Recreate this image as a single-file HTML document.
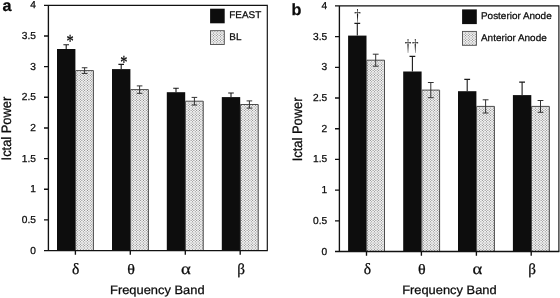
<!DOCTYPE html>
<html lang="en">
<head>
<meta charset="utf-8">
<title>Ictal Power by Frequency Band</title>
<style>
html,body{margin:0;padding:0;background:#fff;}
body{width:560px;height:298px;overflow:hidden;}
svg{display:block;will-change:transform;}
text{text-rendering:geometricPrecision;fill:#0a0a0a;stroke:#0a0a0a;stroke-width:0.25px;paint-order:stroke;}
.t{font-family:"Liberation Sans",sans-serif;font-size:10.1px;}
.k{font-family:"Liberation Sans",sans-serif;font-size:9.7px;}
.l{font-family:"Liberation Sans",sans-serif;font-size:12.1px;}
.p{font-family:"Liberation Sans",sans-serif;font-size:16.2px;font-weight:bold;}
.g{font-family:"Liberation Serif",serif;}
.s{font-family:"Liberation Serif",serif;font-size:18.5px;stroke-width:0.3px;}
.d{font-family:"Liberation Serif",serif;font-size:17.4px;stroke-width:0;fill:#1a1a1a;}
</style>
</head>
<body>
<svg width="560" height="298" viewBox="0 0 560 298">
<defs>
<pattern id="dots" width="14" height="10" patternUnits="userSpaceOnUse">
<rect width="14" height="10" fill="#f3f3f3"/>
<path d="M0.70 0.60h0M2.10 1.85h0M3.50 0.60h0M4.90 1.85h0M6.30 0.60h0M7.70 1.85h0M9.10 0.60h0M10.50 1.85h0M11.90 0.60h0M13.30 1.85h0M0.70 3.10h0M2.10 4.35h0M3.50 3.10h0M4.90 4.35h0M6.30 3.10h0M7.70 4.35h0M9.10 3.10h0M10.50 4.35h0M11.90 3.10h0M13.30 4.35h0M0.70 5.60h0M2.10 6.85h0M3.50 5.60h0M4.90 6.85h0M6.30 5.60h0M7.70 6.85h0M9.10 5.60h0M10.50 6.85h0M11.90 5.60h0M13.30 6.85h0M0.70 8.10h0M2.10 9.35h0M3.50 8.10h0M4.90 9.35h0M6.30 8.10h0M7.70 9.35h0M9.10 8.10h0M10.50 9.35h0M11.90 8.10h0M13.30 9.35h0" fill="none" stroke="#6e6e6e" stroke-width="1.02" stroke-linecap="round"/>
</pattern>
</defs>
<rect width="560" height="298" fill="#fff"/>
<g id="chart-a">
<rect x="57" y="49" width="18.4" height="201.6" fill="#0d0d0d"/>
<rect x="75.4" y="70.6" width="18.4" height="180" fill="url(#dots)"/>
<path d="M75.6 250.6V70.6H93.4V250.6" fill="none" stroke="#4c4c4c" stroke-width="1"/>
<path d="M66.2 49V44.7M63.4 44.7H69" fill="none" stroke="#1a1a1a" stroke-width="1.1"/>
<path d="M84.6 67.75V73.45M81.8 67.75H87.4M81.8 73.45H87.4" fill="none" stroke="#333" stroke-width="1"/>
<rect x="112" y="69.1" width="18.4" height="181.5" fill="#0d0d0d"/>
<rect x="130.4" y="89.6" width="18.4" height="161" fill="url(#dots)"/>
<path d="M130.6 250.6V89.6H148.4V250.6" fill="none" stroke="#4c4c4c" stroke-width="1"/>
<path d="M121.2 69.1V64.4M118.4 64.4H124" fill="none" stroke="#1a1a1a" stroke-width="1.1"/>
<path d="M139.6 85.9V93.3M136.8 85.9H142.4M136.8 93.3H142.4" fill="none" stroke="#333" stroke-width="1"/>
<rect x="166.8" y="92.2" width="18.4" height="158.4" fill="#0d0d0d"/>
<rect x="185.2" y="101.2" width="18.4" height="149.4" fill="url(#dots)"/>
<path d="M185.4 250.6V101.2H203.2V250.6" fill="none" stroke="#4c4c4c" stroke-width="1"/>
<path d="M176 92.2V88.2M173.2 88.2H178.8" fill="none" stroke="#1a1a1a" stroke-width="1.1"/>
<path d="M194.4 97.4V105M191.6 97.4H197.2M191.6 105H197.2" fill="none" stroke="#333" stroke-width="1"/>
<rect x="221.8" y="97.1" width="18.4" height="153.5" fill="#0d0d0d"/>
<rect x="240.2" y="104.5" width="18.4" height="146.1" fill="url(#dots)"/>
<path d="M240.4 250.6V104.5H258.2V250.6" fill="none" stroke="#4c4c4c" stroke-width="1"/>
<path d="M231 97.1V93M228.2 93H233.8" fill="none" stroke="#1a1a1a" stroke-width="1.1"/>
<path d="M249.4 100.9V108.1M246.6 100.9H252.2M246.6 108.1H252.2" fill="none" stroke="#333" stroke-width="1"/>
<path d="M44 5.3H267.3V250.6" fill="none" stroke="#111" stroke-width="1.15"/>
<path d="M267.8 250.6H44M48.4 5.3V250.6" fill="none" stroke="#111" stroke-width="1.35"/>
<path d="M44 219.94H48.4M44 189.28H48.4M44 158.61H48.4M44 127.95H48.4M44 97.29H48.4M44 66.62H48.4M44 35.96H48.4" fill="none" stroke="#111" stroke-width="1.35"/>
<path d="M75.4 250.6V254.8M130.3 250.6V254.8M185.3 250.6V254.8M240.2 250.6V254.8" fill="none" stroke="#111" stroke-width="1.35"/>
<text class="t" transform="translate(35.9 253.6) scale(1.01 1)" text-anchor="end">0</text>
<text class="t" transform="translate(35.9 222.94) scale(1.01 1)" text-anchor="end">0.5</text>
<text class="t" transform="translate(35.9 192.28) scale(1.01 1)" text-anchor="end">1</text>
<text class="t" transform="translate(35.9 161.61) scale(1.01 1)" text-anchor="end">1.5</text>
<text class="t" transform="translate(35.9 130.95) scale(1.01 1)" text-anchor="end">2</text>
<text class="t" transform="translate(35.9 100.29) scale(1.01 1)" text-anchor="end">2.5</text>
<text class="t" transform="translate(35.9 69.62) scale(1.01 1)" text-anchor="end">3</text>
<text class="t" transform="translate(35.9 38.96) scale(1.01 1)" text-anchor="end">3.5</text>
<text class="t" transform="translate(35.9 8.3) scale(1.01 1)" text-anchor="end">4</text>
<text class="g" transform="translate(75.7 274.3) scale(1.0 1)" font-size="15.6" text-anchor="middle">δ</text>
<text class="g" transform="translate(131.1 274.3) scale(1.12 1)" font-size="14.3" text-anchor="middle">θ</text>
<text class="g" transform="translate(185.9 274.3) scale(1.17 1)" font-size="16" text-anchor="middle">α</text>
<text class="g" transform="translate(241 274.3) scale(1.0 1)" font-size="15.2" text-anchor="middle">β</text>
<text class="l" transform="translate(157.3 293.7) scale(1.065 1)" text-anchor="middle">Frequency Band</text>
<text class="l" transform="translate(11.3 128.6) rotate(-90) scale(1.065 1.13)" text-anchor="middle">Ictal Power</text>
<text class="p" transform="translate(2.6 11.1)">a</text>
<rect x="210.1" y="8.7" width="14.6" height="14.6" fill="#0d0d0d"/>
<rect x="210.5" y="30.7" width="13.8" height="13.8" fill="url(#dots)" stroke="#4c4c4c" stroke-width="0.9"/>
<text class="k" transform="translate(229.3 18.3) scale(1.025 1)">FEAST</text>
<text class="k" transform="translate(229.3 40.3) scale(1.025 1)">BL</text>
<text class="s" transform="translate(70.1 46.8) scale(0.78 1)" text-anchor="middle">*</text>
<text class="s" transform="translate(123.9 67.7) scale(0.78 1)" text-anchor="middle">*</text>
</g>
<g id="chart-b">
<rect x="348.1" y="35.6" width="18.4" height="215.9" fill="#0d0d0d"/>
<rect x="366.5" y="60.2" width="18.4" height="191.3" fill="url(#dots)"/>
<path d="M366.7 251.5V60.2H384.5V251.5" fill="none" stroke="#4c4c4c" stroke-width="1"/>
<path d="M357.3 35.6V23.4M354.4 23.4H360.2" fill="none" stroke="#1a1a1a" stroke-width="1.1"/>
<path d="M375.7 54.2V66.2M372.8 54.2H378.6M372.8 66.2H378.6" fill="none" stroke="#333" stroke-width="1"/>
<rect x="403.2" y="71.5" width="18.4" height="180" fill="#0d0d0d"/>
<rect x="421.6" y="90.1" width="18.4" height="161.4" fill="url(#dots)"/>
<path d="M421.8 251.5V90.1H439.6V251.5" fill="none" stroke="#4c4c4c" stroke-width="1"/>
<path d="M412.4 71.5V56.4M409.5 56.4H415.3" fill="none" stroke="#1a1a1a" stroke-width="1.1"/>
<path d="M430.8 82.5V97.7M427.9 82.5H433.7M427.9 97.7H433.7" fill="none" stroke="#333" stroke-width="1"/>
<rect x="458" y="91.2" width="18.4" height="160.3" fill="#0d0d0d"/>
<rect x="476.4" y="106.4" width="18.4" height="145.1" fill="url(#dots)"/>
<path d="M476.6 251.5V106.4H494.4V251.5" fill="none" stroke="#4c4c4c" stroke-width="1"/>
<path d="M467.2 91.2V79.4M464.3 79.4H470.1" fill="none" stroke="#1a1a1a" stroke-width="1.1"/>
<path d="M485.6 99.8V113M482.7 99.8H488.5M482.7 113H488.5" fill="none" stroke="#333" stroke-width="1"/>
<rect x="512.9" y="95.1" width="18.4" height="156.4" fill="#0d0d0d"/>
<rect x="531.3" y="106.4" width="18.4" height="145.1" fill="url(#dots)"/>
<path d="M531.5 251.5V106.4H549.3V251.5" fill="none" stroke="#4c4c4c" stroke-width="1"/>
<path d="M522.1 95.1V82.1M519.2 82.1H525" fill="none" stroke="#1a1a1a" stroke-width="1.1"/>
<path d="M540.5 100.5V112.3M537.6 100.5H543.4M537.6 112.3H543.4" fill="none" stroke="#333" stroke-width="1"/>
<path d="M335 5.9H558.9V251.5" fill="none" stroke="#111" stroke-width="1.15"/>
<path d="M559.4 251.5H335M339.4 5.9V251.5" fill="none" stroke="#111" stroke-width="1.35"/>
<path d="M335 220.8H339.4M335 190.1H339.4M335 159.4H339.4M335 128.7H339.4M335 98H339.4M335 67.3H339.4M335 36.6H339.4" fill="none" stroke="#111" stroke-width="1.35"/>
<path d="M366.5 251.5V255.7M421.4 251.5V255.7M476.4 251.5V255.7M531.2 251.5V255.7" fill="none" stroke="#111" stroke-width="1.35"/>
<text class="t" transform="translate(327.3 254.5) scale(1.01 1)" text-anchor="end">0</text>
<text class="t" transform="translate(327.3 223.8) scale(1.01 1)" text-anchor="end">0.5</text>
<text class="t" transform="translate(327.3 193.1) scale(1.01 1)" text-anchor="end">1</text>
<text class="t" transform="translate(327.3 162.4) scale(1.01 1)" text-anchor="end">1.5</text>
<text class="t" transform="translate(327.3 131.7) scale(1.01 1)" text-anchor="end">2</text>
<text class="t" transform="translate(327.3 101) scale(1.01 1)" text-anchor="end">2.5</text>
<text class="t" transform="translate(327.3 70.3) scale(1.01 1)" text-anchor="end">3</text>
<text class="t" transform="translate(327.3 39.6) scale(1.01 1)" text-anchor="end">3.5</text>
<text class="t" transform="translate(327.3 8.9) scale(1.01 1)" text-anchor="end">4</text>
<text class="g" transform="translate(367.3 274.3) scale(1.0 1)" font-size="15.6" text-anchor="middle">δ</text>
<text class="g" transform="translate(421.8 274.3) scale(1.12 1)" font-size="14.3" text-anchor="middle">θ</text>
<text class="g" transform="translate(477.3 274.3) scale(1.17 1)" font-size="16" text-anchor="middle">α</text>
<text class="g" transform="translate(532 274.3) scale(1.0 1)" font-size="15.2" text-anchor="middle">β</text>
<text class="l" transform="translate(449.4 293.7) scale(1.065 1)" text-anchor="middle">Frequency Band</text>
<text class="l" transform="translate(302.1 129.4) rotate(-90) scale(1.065 1.13)" text-anchor="middle">Ictal Power</text>
<text class="p" transform="translate(291.6 14.6)">b</text>
<rect x="462.1" y="9.4" width="14.7" height="14.7" fill="#0d0d0d"/>
<rect x="462.5" y="31.4" width="13.9" height="13.9" fill="url(#dots)" stroke="#4c4c4c" stroke-width="0.9"/>
<text class="k" transform="translate(481 19.4) scale(1.025 1)">Posterior Anode</text>
<text class="k" transform="translate(481 41.1) scale(1.025 1)">Anterior Anode</text>
<text class="d" transform="translate(357.4 20.9) scale(0.75 1)" text-anchor="middle">†</text>
<text class="d" transform="translate(408 51.2) scale(0.75 1)" text-anchor="middle">†</text>
<text class="d" transform="translate(415.2 51.2) scale(0.75 1)" text-anchor="middle">†</text>
</g>
</svg>
</body>
</html>
